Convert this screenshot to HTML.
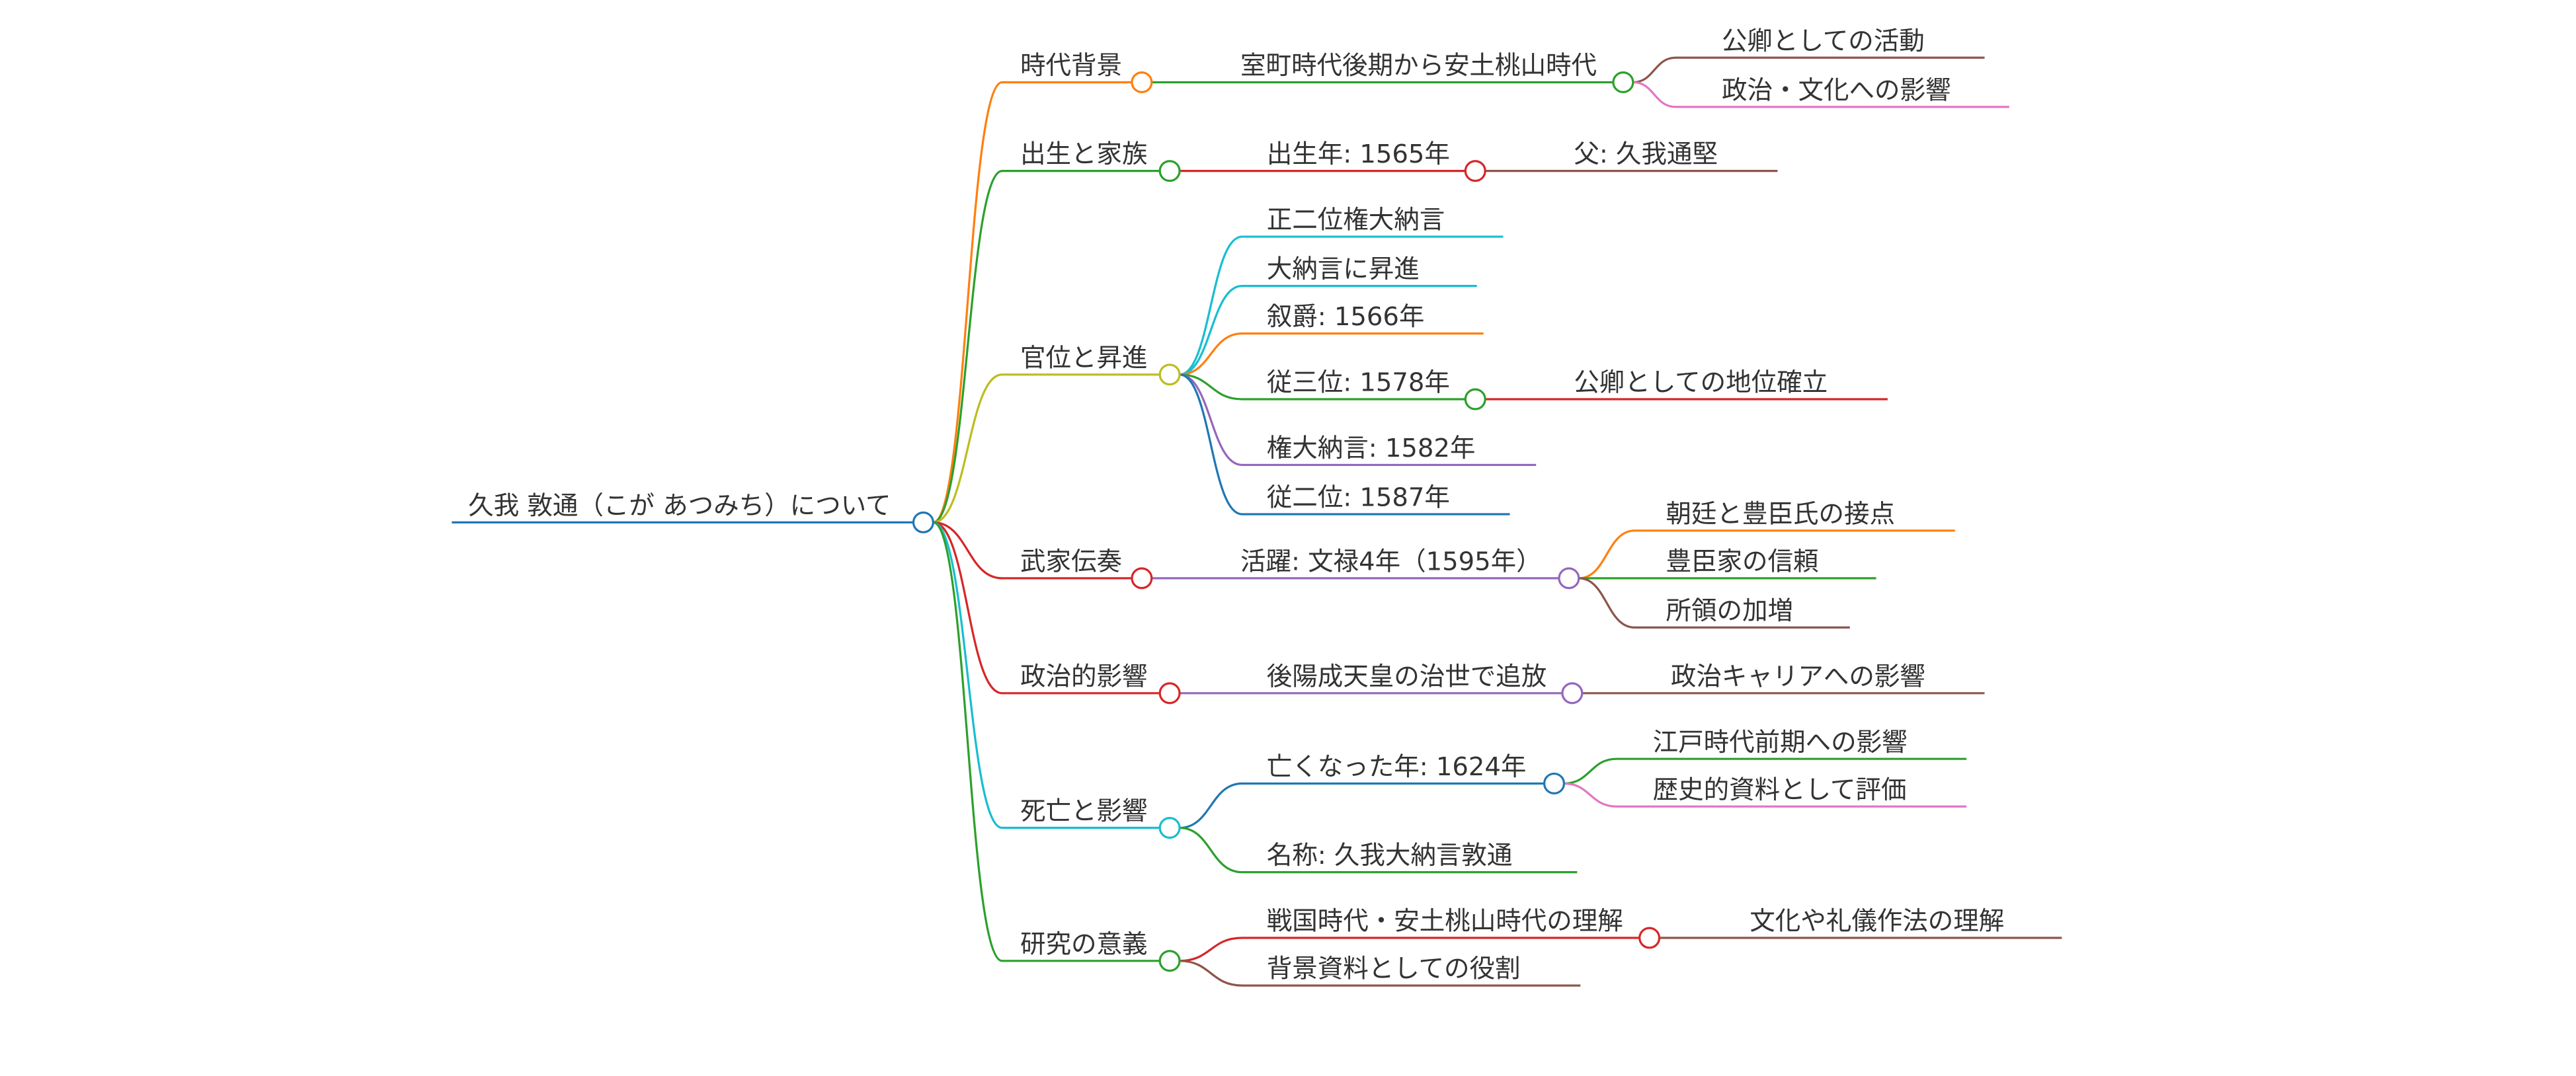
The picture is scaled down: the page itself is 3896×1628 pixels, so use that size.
<!DOCTYPE html>
<html><head><meta charset="utf-8"><style>
html,body{margin:0;padding:0;background:#fff;}
svg{display:block;}
text{font-family:"DejaVu Sans","Noto Sans CJK JP",sans-serif;font-size:15.5px;fill:#333;}
path,line{fill:none;stroke-width:1.3;}
circle{fill:#fff;stroke-width:1.3;}
</style></head><body>
<svg width="3896" height="1628" viewBox="0 0 1568 655" xmlns="http://www.w3.org/2000/svg">
<line x1="275" y1="318" x2="556" y2="318" stroke="#1f77b4"/>
<text x="285" y="313">久我 敦通（こが あつみち）について</text>

<path d="M568 318 C589 318 589 50 610 50 L689 50" stroke="#ff7f0e"/>
<path d="M568 318 C589 318 589 104 610 104 L706 104" stroke="#2ca02c"/>
<path d="M568 318 C589 318 589 228 610 228 L706 228" stroke="#bcbd22"/>
<path d="M568 318 C589 318 589 352 610 352 L689 352" stroke="#d62728"/>
<path d="M568 318 C589 318 589 422 610 422 L706 422" stroke="#d62728"/>
<path d="M568 318 C589 318 589 504 610 504 L706 504" stroke="#17becf"/>
<path d="M568 318 C589 318 589 585 610 585 L706 585" stroke="#2ca02c"/>
<text x="621" y="45">時代背景</text>
<text x="621" y="99">出生と家族</text>
<text x="621" y="223">官位と昇進</text>
<text x="621" y="347">武家伝奏</text>
<text x="621" y="417">政治的影響</text>
<text x="621" y="499">死亡と影響</text>
<text x="621" y="580">研究の意義</text>

<line x1="701" y1="50" x2="982" y2="50" stroke="#2ca02c"/>
<text x="755" y="45">室町時代後期から安土桃山時代</text>
<path d="M994 50 C1007 50 1007 35 1020 35 L1208 35" stroke="#8c564b"/>
<path d="M994 50 C1007 50 1007 65 1020 65 L1223 65" stroke="#e377c2"/>
<text x="1048" y="30">公卿としての活動</text>
<text x="1048" y="60">政治・文化への影響</text>
<circle cx="988" cy="50" r="6" stroke="#2ca02c"/>
<circle cx="695" cy="50" r="6" stroke="#ff7f0e"/>

<line x1="718" y1="104" x2="892" y2="104" stroke="#d62728"/>
<line x1="904" y1="104" x2="1082" y2="104" stroke="#8c564b"/>
<text x="771" y="99">出生年: 1565年</text>
<text x="958" y="99">父: 久我通堅</text>
<circle cx="898" cy="104" r="6" stroke="#d62728"/>
<circle cx="712" cy="104" r="6" stroke="#2ca02c"/>

<path d="M718 228 C737 228 737 144 756 144 L915 144" stroke="#17becf"/>
<path d="M718 228 C737 228 737 174 756 174 L899 174" stroke="#17becf"/>
<path d="M718 228 C737 228 737 203 756 203 L903 203" stroke="#ff7f0e"/>
<path d="M718 228 C737 228 737 243 756 243 L892 243" stroke="#2ca02c"/>
<path d="M718 228 C737 228 737 283 756 283 L935 283" stroke="#9467bd"/>
<path d="M718 228 C737 228 737 313 756 313 L919 313" stroke="#1f77b4"/>
<line x1="904" y1="243" x2="1149" y2="243" stroke="#d62728"/>
<text x="771" y="139">正二位権大納言</text>
<text x="771" y="169">大納言に昇進</text>
<text x="771" y="198">叙爵: 1566年</text>
<text x="771" y="238">従三位: 1578年</text>
<text x="958" y="238">公卿としての地位確立</text>
<text x="771" y="278">権大納言: 1582年</text>
<text x="771" y="308">従二位: 1587年</text>
<circle cx="898" cy="243" r="6" stroke="#2ca02c"/>
<circle cx="712" cy="228" r="6" stroke="#bcbd22"/>

<line x1="701" y1="352" x2="949" y2="352" stroke="#9467bd"/>
<text x="755" y="347">活躍: 文禄4年（1595年）</text>
<path d="M961 352 C978 352 978 323 995 323 L1190 323" stroke="#ff7f0e"/>
<line x1="961" y1="352" x2="1142" y2="352" stroke="#2ca02c"/>
<path d="M961 352 C978 352 978 382 995 382 L1126 382" stroke="#8c564b"/>
<text x="1014" y="318">朝廷と豊臣氏の接点</text>
<text x="1014" y="347">豊臣家の信頼</text>
<text x="1014" y="377">所領の加増</text>
<circle cx="955" cy="352" r="6" stroke="#9467bd"/>
<circle cx="695" cy="352" r="6" stroke="#d62728"/>

<line x1="718" y1="422" x2="951" y2="422" stroke="#9467bd"/>
<line x1="963" y1="422" x2="1208" y2="422" stroke="#8c564b"/>
<text x="771" y="417">後陽成天皇の治世で追放</text>
<text x="1017" y="417">政治キャリアへの影響</text>
<circle cx="957" cy="422" r="6" stroke="#9467bd"/>
<circle cx="712" cy="422" r="6" stroke="#d62728"/>

<path d="M718 504 C737 504 737 477 756 477 L940 477" stroke="#1f77b4"/>
<path d="M718 504 C737 504 737 531 756 531 L960 531" stroke="#2ca02c"/>
<path d="M952 477 C968 477 968 462 984 462 L1197 462" stroke="#2ca02c"/>
<path d="M952 477 C968 477 968 491 984 491 L1197 491" stroke="#e377c2"/>
<text x="771" y="472">亡くなった年: 1624年</text>
<text x="771" y="526">名称: 久我大納言敦通</text>
<text x="1006" y="457">江戸時代前期への影響</text>
<text x="1006" y="486">歴史的資料として評価</text>
<circle cx="946" cy="477" r="6" stroke="#1f77b4"/>
<circle cx="712" cy="504" r="6" stroke="#17becf"/>

<path d="M718 585 C737 585 737 571 756 571 L998 571" stroke="#d62728"/>
<path d="M718 585 C737 585 737 600 756 600 L962 600" stroke="#8c564b"/>
<line x1="1010" y1="571" x2="1255" y2="571" stroke="#8c564b"/>
<text x="771" y="566">戦国時代・安土桃山時代の理解</text>
<text x="771" y="595">背景資料としての役割</text>
<text x="1065" y="566">文化や礼儀作法の理解</text>
<circle cx="1004" cy="571" r="6" stroke="#d62728"/>
<circle cx="712" cy="585" r="6" stroke="#2ca02c"/>

<circle cx="562" cy="318" r="6" stroke="#1f77b4"/>
</svg>
</body></html>
